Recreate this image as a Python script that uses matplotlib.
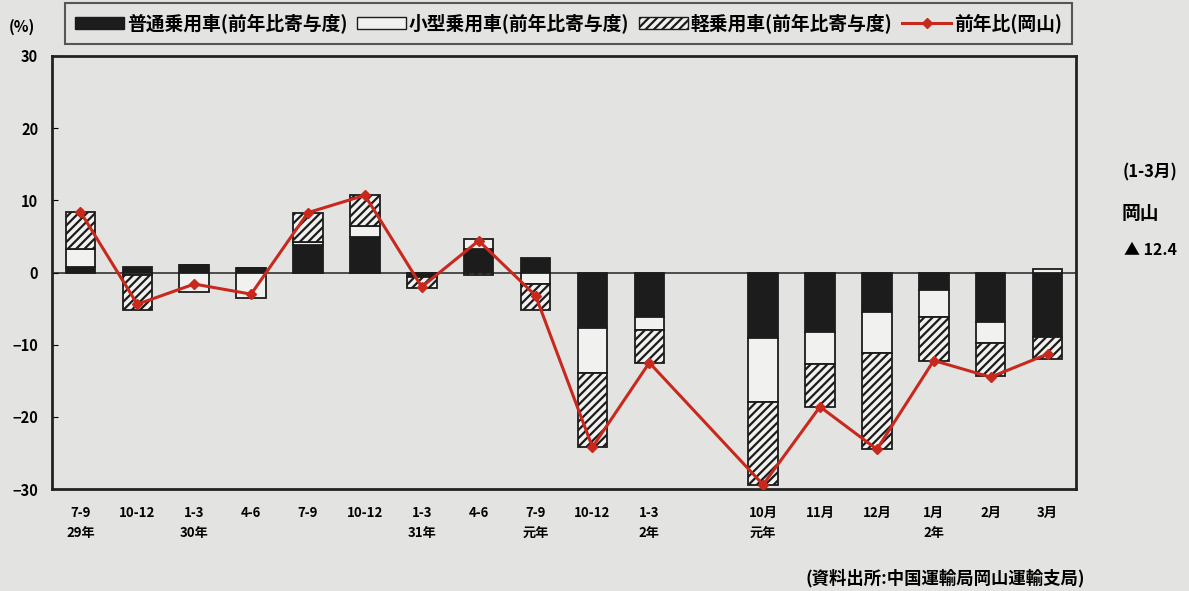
import numpy as np
import matplotlib
matplotlib.use("Agg")
import matplotlib.pyplot as plt
from matplotlib.lines import Line2D
from matplotlib.patches import Patch

plt.rcParams['font.family'] = ['Noto Sans CJK JP', 'DejaVu Sans']
plt.rcParams['font.weight'] = 'bold'
plt.rcParams['hatch.linewidth'] = 1.6

# 期間ラベル（四半期 → 月次）
labels = ["7-9\n29年", "10-12", "1-3\n30年", "4-6", "7-9", "10-12", "1-3\n31年", "4-6",
          "7-9\n元年", "10-12", "1-3\n2年", "10月\n元年", "11月", "12月", "1月\n2年", "2月", "3月"]
# 前年比寄与度 (%)
futsu = [0.7, 0.8, 1.1, 0.6, 3.8, 4.9, -0.6, 3.3, 2.0, -7.7, -6.2, -9.1, -8.3, -5.5, -2.4, -6.9, -9.0]
kogata = [2.6, -0.3, -2.7, -3.6, 0.4, 1.6, 0.0, 1.4, -1.6, -6.2, -1.7, -8.9, -4.4, -5.6, -3.8, -2.8, 0.5]
kei = [5.1, -4.9, 0.0, 0.0, 4.1, 4.2, -1.6, -0.3, -3.6, -10.3, -4.6, -11.4, -6.0, -13.3, -6.0, -4.6, -3.0]
# 前年比（岡山）
yoy = [8.4, -4.4, -1.6, -3.0, 8.3, 10.7, -2.0, 4.4, -3.2, -24.2, -12.5, -29.4, -18.6, -24.5, -12.2, -14.5, -11.3]

bg = '#e3e4e2'
ink = '#1c1c1c'
red = '#c9281d'

x = np.r_[0:11, 12:18]

fig = plt.figure(figsize=(11.89, 5.91), dpi=100, facecolor=bg)
ax = fig.add_axes([52 / 1189, 1 - 489 / 591, (1076 - 52) / 1189, (489 - 56) / 591])
ax.set_facecolor(bg)

styles = [
    dict(color=ink, edgecolor=ink),
    dict(color='#f1f1ef', edgecolor=ink),
    dict(color='#f1f1ef', edgecolor=ink, hatch='////'),
]
pos = np.zeros(len(x))
neg = np.zeros(len(x))
for vals, st in zip([futsu, kogata, kei], styles):
    v = np.array(vals)
    bottom = np.where(v >= 0, pos, neg)
    ax.bar(x, v, 0.52, bottom=bottom, linewidth=1.3, zorder=2, **st)
    pos += np.where(v >= 0, v, 0)
    neg += np.where(v < 0, v, 0)

ax.axhline(0, color='#333333', lw=1.2, zorder=1)
ax.plot(x, yoy, color=red, lw=2.2, marker='D', ms=5, zorder=4)

ax.set_xlim(-0.5, 17.5)
ax.set_ylim(-30, 30)
ax.set_yticks(range(-30, 31, 10))
ax.set_xticks(x)
ax.set_xticklabels(labels, fontsize=9.5, linespacing=1.6, va='top')
ax.tick_params(axis='x', length=0, pad=12)
ax.tick_params(axis='y', direction='in', length=4, labelsize=10.5, pad=10)
for s in ax.spines.values():
    s.set_linewidth(2)
    s.set_color('#222222')

fig.text(22 / 1189, 1 - 27 / 591, '(%)', fontsize=11, ha='center', va='center')

handles = [
    Patch(facecolor=ink, edgecolor=ink),
    Patch(facecolor='#f1f1ef', edgecolor=ink),
    Patch(facecolor='#f1f1ef', edgecolor=ink, hatch='////'),
    Line2D([], [], color=red, lw=2.2, marker='D', ms=5),
]
names = ['普通乗用車(前年比寄与度)', '小型乗用車(前年比寄与度)', '軽乗用車(前年比寄与度)', '前年比(岡山)']
leg = fig.legend(handles, names, loc='lower left', ncol=4, mode='expand',
                 bbox_to_anchor=(65 / 1189, 1 - 44 / 591, (1072 - 65) / 1189, 41 / 591),
                 fontsize=13.5, handlelength=2.6, handleheight=0.6, handletextpad=0.15,
                 columnspacing=0.3, borderpad=0.55, frameon=True, fancybox=False,
                 borderaxespad=0)
leg.get_frame().set_facecolor(bg)
leg.get_frame().set_edgecolor('#333333')
leg.get_frame().set_linewidth(1.5)

fig.text(1150 / 1189, 1 - 172 / 591, '(1-3月)', fontsize=12, ha='center', va='center')
fig.text(1140 / 1189, 1 - 213 / 591, '岡山', fontsize=13.5, ha='center', va='center')
fig.text(1151 / 1189, 1 - 250 / 591, '▲ 12.4', fontsize=11.5, ha='center', va='center')

fig.text(1085 / 1189, 1 - 578 / 591, '(資料出所:中国運輸局岡山運輸支局)', fontsize=12.5,
         ha='right', va='center')

fig.savefig('out.png', dpi=100, facecolor=bg)
